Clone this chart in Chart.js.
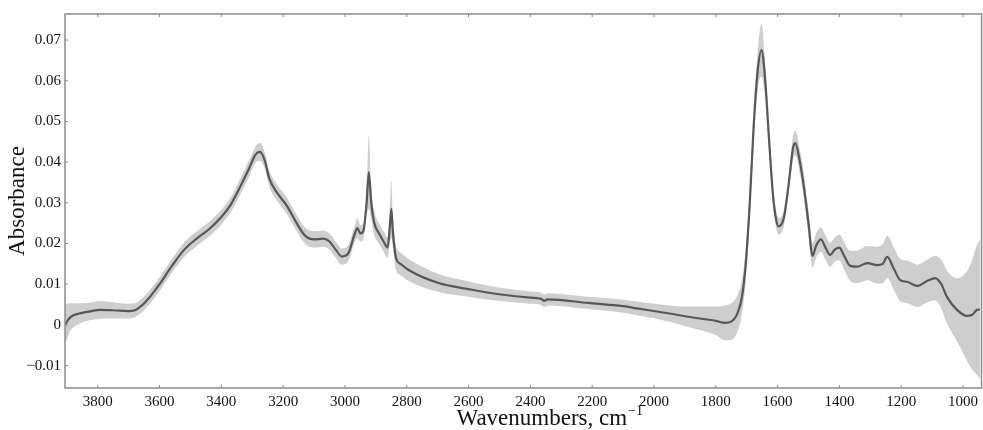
<!DOCTYPE html>
<html>
<head>
<meta charset="utf-8">
<script src="https://cdn.jsdelivr.net/npm/chart.js@4/dist/chart.umd.min.js"></script>
<style>
  html, body { margin: 0; padding: 0; background: #fff; }
  #wrap { width: 983px; height: 430px; }
</style>
</head>
<body>
<div id="wrap"><canvas id="spectrum"></canvas></div>
<script>
// wavenumbers (cm-1), mean absorbance and spread
const wavenumbers = [
  3906, 3890, 3860, 3820, 3794, 3750, 3700, 3680, 3660, 3630, 3600, 3560, 3520, 3480, 3440,
  3400, 3370, 3340, 3310, 3290, 3275, 3260, 3245, 3220, 3190, 3160, 3130, 3100, 3070, 3050,
  3030, 3010, 2990, 2970, 2960, 2950, 2940, 2930, 2923, 2915, 2905, 2890, 2875, 2862, 2855,
  2850, 2845, 2835, 2820, 2794, 2697, 2600, 2535, 2400, 2365, 2355, 2345, 2213, 2100, 2050,
  1950, 1890, 1800, 1770, 1750, 1729, 1715, 1703, 1690, 1678, 1665, 1652, 1640, 1628,
  1615, 1605, 1597, 1580, 1565, 1550, 1543, 1530, 1515, 1500, 1487, 1475, 1460, 1445, 1430,
  1415, 1400, 1385, 1365, 1342, 1310, 1277, 1260, 1245, 1225, 1203, 1181, 1148, 1116,
  1090, 1070, 1052, 1019, 987, 970, 955, 945
];
const absorbance = [
  0.0000, 0.0018, 0.0028, 0.0034, 0.0037, 0.0036, 0.0034, 0.0036, 0.0046, 0.0070, 0.0100, 0.0145, 0.0185, 0.0212, 0.0235,
  0.0265, 0.0295, 0.0338, 0.0385, 0.0418, 0.0425, 0.0405, 0.0360, 0.0325, 0.0295, 0.0255, 0.0220, 0.0210, 0.0212, 0.0205,
  0.0185, 0.0168, 0.0175, 0.0220, 0.0238, 0.0225, 0.0232, 0.0300, 0.0375, 0.0300, 0.0250, 0.0225, 0.0205, 0.0190, 0.0240,
  0.0285, 0.0230, 0.0165, 0.0150, 0.0135, 0.0103, 0.0088, 0.0079, 0.0067, 0.0064, 0.0059, 0.0063, 0.0054, 0.0046, 0.0040,
  0.0028, 0.0020, 0.0010, 0.0005, 0.0008, 0.0030, 0.0070, 0.0150, 0.0300, 0.0480, 0.0620, 0.0675, 0.0600, 0.0460,
  0.0320, 0.0260, 0.0242, 0.0262, 0.0340, 0.0435, 0.0447, 0.0410, 0.0340, 0.0250, 0.0170, 0.0195, 0.0210, 0.0190, 0.0172,
  0.0185, 0.0190, 0.0170, 0.0145, 0.0143, 0.0152, 0.0147, 0.0150, 0.0167, 0.0140, 0.0110, 0.0106, 0.0096, 0.0108,
  0.0115, 0.0100, 0.0069, 0.0037, 0.0022, 0.0025, 0.0037, 0.0038
];
const spread = [
  0.0050, 0.0035, 0.0025, 0.0022, 0.0022, 0.0020, 0.0018, 0.0017, 0.0017, 0.0017, 0.0017, 0.0017, 0.0018, 0.0018, 0.0018,
  0.0018, 0.0018, 0.0020, 0.0020, 0.0020, 0.0022, 0.0020, 0.0020, 0.0020, 0.0020, 0.0020, 0.0020, 0.0020, 0.0020, 0.0020,
  0.0020, 0.0020, 0.0020, 0.0020, 0.0025, 0.0020, 0.0020, 0.0030, 0.0090, 0.0040, 0.0030, 0.0025, 0.0025, 0.0025, 0.0040,
  0.0070, 0.0040, 0.0030, 0.0028, 0.0027, 0.0022, 0.0019, 0.0017, 0.0015, 0.0015, 0.0015, 0.0015, 0.0015, 0.0016, 0.0017,
  0.0020, 0.0025, 0.0035, 0.0043, 0.0045, 0.0045, 0.0042, 0.0040, 0.0040, 0.0040, 0.0045, 0.0065, 0.0045, 0.0030,
  0.0025, 0.0020, 0.0020, 0.0020, 0.0020, 0.0030, 0.0030, 0.0030, 0.0030, 0.0030, 0.0030, 0.0030, 0.0030, 0.0030, 0.0030,
  0.0030, 0.0032, 0.0034, 0.0037, 0.0040, 0.0042, 0.0045, 0.0048, 0.0052, 0.0052, 0.0052, 0.0052, 0.0052, 0.0052,
  0.0055, 0.0060, 0.0065, 0.0078, 0.0110, 0.0135, 0.0160, 0.0170
];

const xTicks = [3800, 3600, 3400, 3200, 3000, 2800, 2600, 2400, 2200, 2000, 1800, 1600, 1400, 1200, 1000];
const yTicks = [-0.01, 0, 0.01, 0.02, 0.03, 0.04, 0.05, 0.06, 0.07];

const bandColor = 'rgba(206, 206, 206, 1)';
const lineColor = '#575757';
const frameColor = '#8c8c8c';
const serif = '"Liberation Serif", "DejaVu Serif", serif';

const upper = wavenumbers.map((w, i) => ({ x: w, y: absorbance[i] + spread[i] }));
const lower = wavenumbers.map((w, i) => ({ x: w, y: absorbance[i] - spread[i] }));
const mean = wavenumbers.map((w, i) => ({ x: w, y: absorbance[i] }));

// box round the plot, small inward ticks, and the x title with a real superscript
const framePlugin = {
  id: 'frame',
  afterDraw(chart) {
    const { ctx, chartArea: a, scales } = chart;
    ctx.save();
    ctx.strokeStyle = frameColor;
    ctx.lineWidth = 1.5;
    ctx.strokeRect(a.left, a.top, a.right - a.left, a.bottom - a.top);
    ctx.lineWidth = 1;
    ctx.beginPath();
    xTicks.forEach((v) => {
      const px = scales.x.getPixelForValue(v);
      ctx.moveTo(px, a.bottom); ctx.lineTo(px, a.bottom - 3);
      ctx.moveTo(px, a.top); ctx.lineTo(px, a.top + 3);
    });
    yTicks.forEach((v) => {
      const py = scales.y.getPixelForValue(v);
      ctx.moveTo(a.left, py); ctx.lineTo(a.left + 3, py);
    });
    ctx.stroke();

    const main = 'Wavenumbers, cm';
    const sup = '\u22121';
    ctx.fillStyle = '#111';
    ctx.textBaseline = 'alphabetic';
    ctx.font = '23px ' + serif;
    const wMain = ctx.measureText(main).width;
    ctx.font = '14px ' + serif;
    const wSup = ctx.measureText(sup).width;
    const cx = (a.left + a.right) / 2 + 26;
    const x0 = cx - (wMain + wSup) / 2;
    const base = a.bottom + 37;
    ctx.font = '23px ' + serif;
    ctx.fillText(main, x0, base);
    ctx.font = '14px ' + serif;
    ctx.fillText(sup, x0 + wMain + 1, base - 10);
    ctx.restore();
  }
};

new Chart(document.getElementById('spectrum'), {
  type: 'line',
  data: {
    datasets: [
      {
        label: 'mean',
        data: mean,
        order: 0,
        borderColor: lineColor,
        borderWidth: 2.2,
        pointRadius: 0,
        fill: false,
        cubicInterpolationMode: 'monotone',
      },
      {
        label: 'upper',
        data: upper,
        order: 1,
        borderWidth: 0,
        pointRadius: 0,
        backgroundColor: bandColor,
        fill: '+1',
        cubicInterpolationMode: 'monotone',
      },
      {
        label: 'lower',
        data: lower,
        order: 2,
        borderWidth: 0,
        pointRadius: 0,
        fill: false,
        cubicInterpolationMode: 'monotone',
      },
    ],
  },
  options: {
    responsive: true,
    maintainAspectRatio: false,
    animation: false,
    layout: { padding: { top: 14, right: 0, left: 0, bottom: 0 } },
    plugins: {
      legend: { display: false },
      tooltip: { enabled: false },
      filler: { drawTime: 'beforeDatasetsDraw' },
    },
    scales: {
      x: {
        type: 'linear',
        reverse: true,
        min: 940,
        max: 3906,
        grid: { display: false, drawTicks: false },
        border: { display: false },
        afterBuildTicks: (scale) => { scale.ticks = xTicks.map((v) => ({ value: v })); },
        afterFit: (scale) => { scale.height = 42; },
        ticks: {
          padding: 5,
          color: '#111',
          font: { family: serif, size: 15 },
          maxRotation: 0,
          autoSkip: false,
          callback: (v) => String(v),
        },
      },
      y: {
        min: -0.0155,
        max: 0.0764,
        grid: { display: false, drawTicks: false },
        border: { display: false },
        afterBuildTicks: (scale) => { scale.ticks = yTicks.map((v) => ({ value: v })); },
        afterFit: (scale) => { scale.width = 65; },
        title: {
          display: true,
          text: 'Absorbance',
          color: '#111',
          font: { family: serif, size: 23 },
          padding: { top: 4, bottom: 0 },
        },
        ticks: {
          padding: 4,
          color: '#111',
          font: { family: serif, size: 15 },
          autoSkip: false,
          callback: (v) => (v === 0 ? '0' : (v < 0 ? '\u2212' : '') + Math.abs(v).toFixed(2)),
        },
      },
    },
  },
  plugins: [framePlugin],
});
</script>
</body>
</html>
